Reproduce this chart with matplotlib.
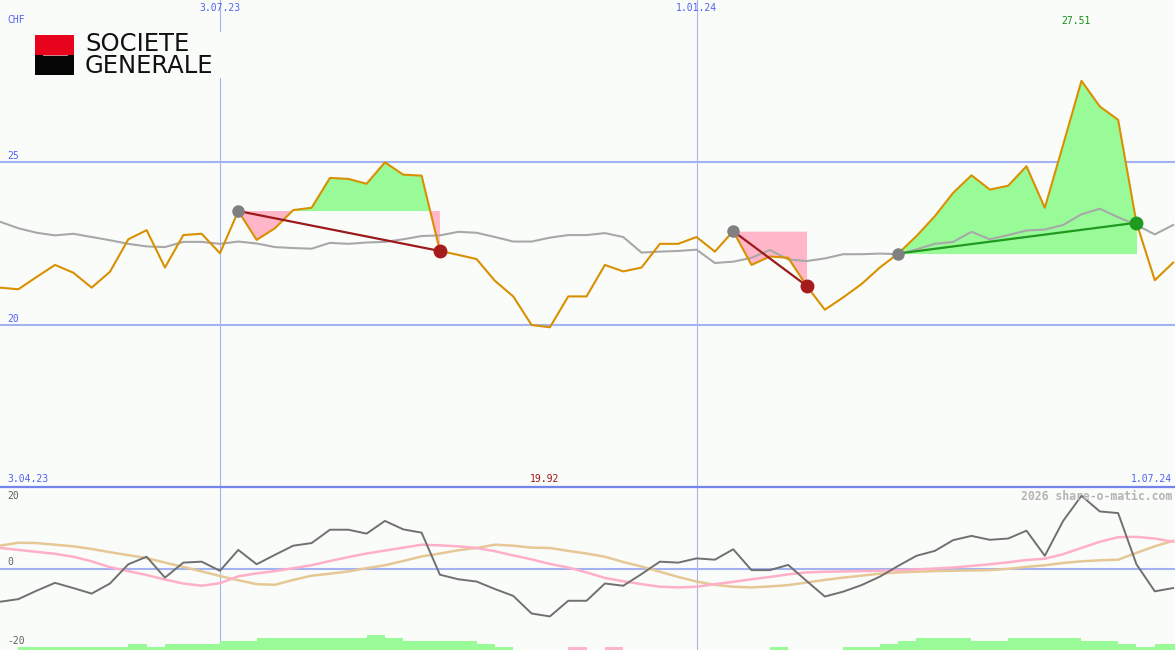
import matplotlib.pyplot as plt
from matplotlib.patches import Rectangle

W, H = 1175, 650

# weekly closes, CHF (week 0 = first bar)
price = [21.14, 21.09, 21.47, 21.84, 21.60, 21.14, 21.63, 22.63, 22.91, 21.76,
         22.76, 22.80, 22.20, 23.50, 22.61, 22.97, 23.53, 23.60, 24.52, 24.49,
         24.34, 25.00, 24.62, 24.59, 22.27, 22.15, 22.02, 21.35, 20.87, 19.99,
         19.92, 20.87, 20.87, 21.84, 21.64, 21.76, 22.49, 22.49, 22.70, 22.25,
         22.88, 21.84, 22.10, 22.06, 21.20, 20.46, 20.84, 21.25, 21.76, 22.19,
         22.73, 23.34, 24.06, 24.60, 24.16, 24.28, 24.88, 23.60, 25.54, 27.51,
         26.72, 26.31, 23.14, 21.37, 21.91]
avg = [23.17, 22.97, 22.83, 22.75, 22.80, 22.70, 22.60, 22.49, 22.41, 22.39,
       22.55, 22.55, 22.49, 22.56, 22.50, 22.39, 22.36, 22.34, 22.52, 22.49,
       22.53, 22.55, 22.63, 22.73, 22.75, 22.86, 22.83, 22.70, 22.56, 22.56,
       22.68, 22.76, 22.76, 22.82, 22.70, 22.22, 22.25, 22.27, 22.31, 21.90,
       21.94, 22.06, 22.30, 22.01, 21.96, 22.04, 22.17, 22.17, 22.19, 22.17,
       22.32, 22.49, 22.55, 22.86, 22.63, 22.76, 22.90, 22.93, 23.07, 23.40,
       23.57, 23.31, 23.07, 22.78, 23.07]
momentum = [-10.2, -9.4, -6.8, -4.4, -6.0, -7.7, -4.6, 1.3, 3.6, -2.8,
            1.8, 2.1, -0.7, 5.7, 1.3, 4.2, 7.0, 7.8, 11.9, 11.9,
            10.7, 14.6, 12.0, 11.0, -1.9, -3.3, -4.0, -6.3, -8.4, -13.8,
            -14.7, -9.9, -9.9, -4.6, -5.3, -1.7, 2.1, 1.8, 3.1, 2.7,
            5.9, -0.5, -0.5, 1.1, -3.8, -8.6, -7.1, -5.1, -2.5, 0.8,
            3.9, 5.4, 8.7, 10.0, 8.8, 9.2, 11.6, 3.9, 14.6, 22.3,
            17.5, 17.0, 1.3, -7.0, -6.0]
osc_pink = [6.3, 5.7, 5.1, 4.5, 3.6, 2.2, 0.4, -0.8, -2.0, -3.4,
            -4.6, -5.3, -4.5, -2.4, -1.5, -0.8, 0.1, 1.0, 2.3, 3.5,
            4.6, 5.5, 6.4, 7.3, 7.1, 6.8, 6.3, 5.3, 4.0, 2.8,
            1.4, 0.3, -1.2, -2.9, -3.9, -4.8, -5.6, -5.8, -5.6, -4.8,
            -4.1, -3.3, -2.6, -1.8, -1.2, -1.0, -0.9, -0.8, -0.7, -0.5,
            -0.3, 0.0, 0.3, 0.8, 1.3, 1.9, 2.6, 3.0, 4.4, 6.3,
            8.2, 9.6, 9.7, 9.2, 8.2]
osc_tan = [7.0, 7.9, 7.8, 7.3, 6.8, 6.0, 5.0, 4.1, 3.2, 1.8,
           0.5, -0.9, -2.3, -3.6, -4.8, -5.0, -3.5, -2.2, -1.6, -0.9,
           0.1, 1.0, 2.3, 3.7, 4.6, 5.6, 6.3, 7.3, 7.0, 6.4,
           6.3, 5.4, 4.6, 3.6, 2.0, 0.6, -1.0, -2.6, -4.0, -5.0,
           -5.6, -5.8, -5.5, -5.1, -4.3, -3.5, -2.8, -2.2, -1.6, -1.2,
           -1.0, -0.8, -0.7, -0.6, -0.5, -0.1, 0.5, 1.0, 1.7, 2.2,
           2.5, 2.7, 4.8, 6.8, 8.5]
# signal bars (one per week, + green / - pink)
signal = [0, 1, 1, 1, 1, 1, 1, 2, 1, 2,
          2, 2, 3, 3, 4, 4, 4, 4, 4, 4,
          5, 4, 3, 3, 3, 3, 2, 1, 0, 0,
          0, -1, 0, -1, 0, 0, 0, 0, 0, 0,
          0, 0, 1, 0, 0, 0, 1, 1, 2, 3,
          4, 4, 4, 3, 3, 4, 4, 4, 4, 3,
          3, 2, 1, 2, 2]
# trades: (entry week, exit week)
trades = [(13, 24), (40, 44), (49, 62)]

grid_weeks = [12, 38]
grid_labels = ['3.07.23', '1.01.24']
first_label, last_label = '3.04.23', '1.07.24'
hi_label, lo_label = '27.51', '19.92'

weeks = list(range(len(price)))
xmax = W / 18.33

blue = '#a4b2f2'
txtblue = '#4f62f0'
bg = '#fafcfa'
mono = 'DejaVu Sans Mono'

fig = plt.figure(figsize=(W / 100, H / 100), dpi=100, facecolor=bg)
ax = fig.add_axes([0, 163 / H, 1, 487 / H], facecolor=bg)
ax2 = fig.add_axes([0, 0, 1, 163 / H], facecolor=bg)
for a in (ax, ax2):
    a.set_xlim(0, xmax)
    a.axis('off')
    for wk in grid_weeks:
        a.axvline(wk, color=blue, lw=0.8, zorder=1)
ax.set_ylim(15, 30)
ax2.set_ylim(-25, 25)

ax.axhline(25, color=blue, lw=1.5, zorder=1)
ax.axhline(20, color=blue, lw=1.5, zorder=1)
ax2.axhline(0, color=blue, lw=1.5, zorder=1)

# trade fills
for s, e in trades:
    xs = weeks[s:e + 1]
    ps = price[s:e + 1]
    lvl = price[s]
    ax.fill_between(xs, ps, lvl, where=[v >= lvl for v in ps], interpolate=True,
                    color='#98fb98', lw=0, zorder=2)
    ax.fill_between(xs, ps, lvl, where=[v <= lvl for v in ps], interpolate=True,
                    color='#ffb6c8', lw=0, zorder=2)

ax.plot(weeks, avg, color='#a8a8a8', lw=1.5, zorder=3)
ax.plot(weeks, price, color='#d99000', lw=1.5, zorder=4)

for s, e in trades:
    win = price[e] > price[s]
    lc = '#1f9a1f' if win else '#9c1a1a'
    ax.plot([s, e], [price[s], price[e]], color=lc, lw=1.6, zorder=5)
    ax.plot(s, price[s], 'o', color='#808080', ms=8, zorder=6)
    ax.plot(e, price[e], 'o', color='#1f9a1f' if win else '#a61c1c', ms=9, zorder=6)

# lower panel
ax2.plot(weeks, osc_tan, color='#e6c896', lw=1.8, zorder=3)
ax2.plot(weeks, osc_pink, color='#ffb0c8', lw=1.8, zorder=3)
ax2.plot(weeks, momentum, color='#707070', lw=1.4, zorder=4)

ax3 = ax2.twinx()
ax3.set_xlim(0, xmax)
ax3.set_ylim(0, 163 / 3)
ax3.axis('off')
ax3.bar([w + 0.5 for w in weeks], [abs(v) for v in signal], width=1.0,
        color=['#98fb98' if v > 0 else '#ffb6c8' for v in signal], lw=0)

fig.add_artist(plt.Line2D([0, 1], [1 - 487 / H] * 2, color='#7384ea', lw=1.6))


def txt(px, py, s, color=txtblue, ha='left', size=7, **kw):
    fig.text(px / W, 1 - py / H, s, color=color, ha=ha, va='center',
             family=mono, fontsize=size, **kw)


txt(7, 20, 'CHF')
txt(7, 156, '25')
txt(7, 319, '20')
for wk, lab in zip(grid_weeks, grid_labels):
    txt(wk * 18.33, 8, lab, ha='center')
txt(1076, 21, hi_label, color='#149014', ha='center')
txt(7, 479, first_label)
txt(545, 479, lo_label, color='#a01414', ha='center')
txt(1172, 479, last_label, ha='right')
txt(1172, 496, '2026 share-o-matic.com', color='#b4b4b4', ha='right', size=8.3,
    fontweight='bold')
txt(7, 496, '20', color='#606060')
txt(7, 562, '0', color='#606060')
txt(7, 641, '-20', color='#606060')

# logo
lg = fig.add_axes([30 / W, 1 - 78 / H, 210 / W, 46 / H])
lg.set_xlim(30, 240)
lg.set_ylim(78, 32)
lg.axis('off')
lg.add_patch(Rectangle((30, 32), 210, 46, color=bg, zorder=0))
lg.add_patch(Rectangle((35, 34.5), 39, 20, color='#e9041e', lw=0))
lg.add_patch(Rectangle((35, 54.5), 39, 20.5, color='#050505', lw=0))
lg.plot([43, 67], [54.5, 54.5], color='#f2a0a8', lw=0.6)
lg.text(85, 44, 'SOCIETE', fontsize=17.5, family='DejaVu Sans', va='center', ha='left',
        color='#111111')
lg.text(85, 66, 'GENERALE', fontsize=17.5, family='DejaVu Sans', va='center', ha='left',
        color='#111111')

fig.savefig('out.png', dpi=100, facecolor=bg)
